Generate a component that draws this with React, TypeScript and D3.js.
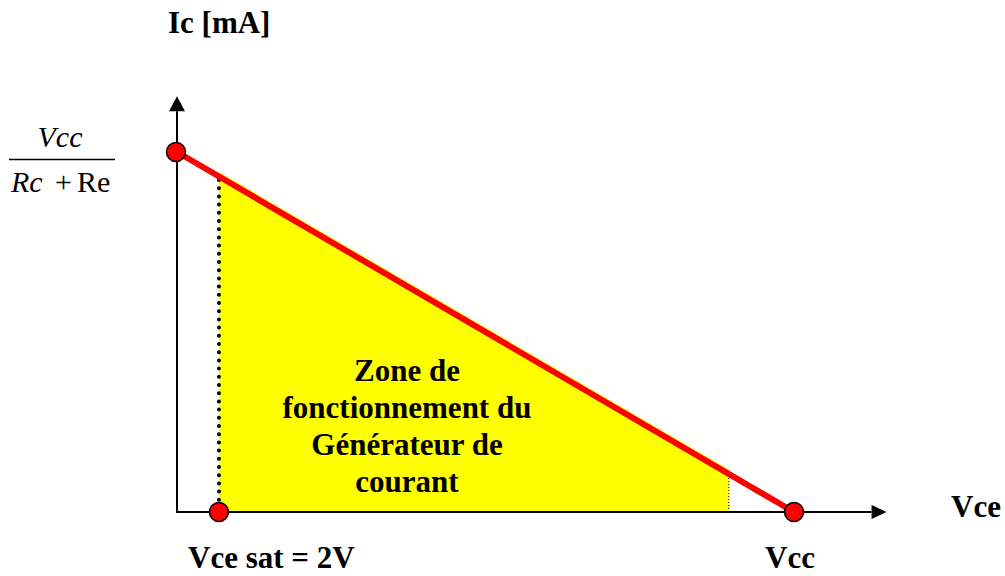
import React from "react";
import * as d3 from "d3";

// Normalised values: Vce in units of Vcc, Ic in units of Vcc/(Rc+Re)
const loadLineVce = [0, 1];
const loadLineIc = [1, 0];
const markerVce = [0, 0.068, 1];
const markerIc = [1, 0, 0];
const vceSat = 0.068;
const zoneEnd = 0.895;
const axisMaxVce = 1.15;
const axisMaxIc = 1.155;
const zoneLines = ["Zone de", "fonctionnement du", "Générateur de", "courant"];

const W = 1005;
const H = 576;
const serif = "'Liberation Serif', 'Times New Roman', serif";

export default function App() {
  const x = d3.scaleLinear().domain([0, 1]).range([177, 794]);
  const y = d3.scaleLinear().domain([0, 1]).range([512, 152]);

  const lineGen = d3
    .line<[number, number]>()
    .x((d) => x(d[0]))
    .y((d) => y(d[1]));

  const load: [number, number][] = loadLineVce.map((v, i) => [v, loadLineIc[i]]);
  const icAt = (v: number) => 1 - v;

  // yellow zone (peeks slightly above the red line)
  const off = 4.5;
  const zonePath = [
    `M${x(vceSat)},${y(0)}`,
    `L${x(vceSat)},${y(icAt(vceSat)) - off}`,
    `L${x(zoneEnd)},${y(icAt(zoneEnd)) - off}`,
    `L${x(zoneEnd)},${y(0)}`,
    "Z",
  ].join(" ");

  const yTop = y(axisMaxIc);
  const xRight = x(axisMaxVce);
  const ah = 15;
  const aw = 8;

  const zoneCx = 407;
  const zoneBaselines = [381, 418, 455, 492];
  const fs = 31;

  return (
    <svg
      width={W}
      height={H}
      style={{ position: "absolute", left: 0, top: 0, background: "#fff" }}
      fontFamily={serif}
    >
      <rect width={W} height={H} fill="#fff" />
      {/* zone */}
      <path d={zonePath} fill="#ffff00" />
      {/* dotted verticals */}
      <line
        x1={x(vceSat)}
        x2={x(vceSat)}
        y1={y(0) - 4}
        y2={y(icAt(vceSat)) - 3}
        stroke="#000"
        strokeWidth={4}
        strokeLinecap="round"
        strokeDasharray="0 8.2"
      />
      <line
        x1={x(zoneEnd) - 0.5}
        x2={x(zoneEnd) - 0.5}
        y1={y(0)}
        y2={y(icAt(zoneEnd))}
        stroke="#000"
        strokeWidth={1}
        strokeDasharray="1 2"
      />
      {/* axes */}
      <line x1={x(0)} x2={x(0)} y1={y(0) + 1} y2={yTop + ah} stroke="#000" strokeWidth={2} />
      <path
        d={`M${x(0)},${yTop} L${x(0) - aw},${yTop + ah} L${x(0) + aw},${yTop + ah} Z`}
        fill="#000"
      />
      <line x1={x(0) - 1} x2={xRight - ah} y1={y(0)} y2={y(0)} stroke="#000" strokeWidth={2} />
      <path
        d={`M${xRight},${y(0)} L${xRight - ah},${y(0) - 7} L${xRight - ah},${y(0) + 7} Z`}
        fill="#000"
      />
      {/* load line */}
      <path d={lineGen(load) || ""} stroke="#ff0000" strokeWidth={6} fill="none" />
      {markerVce.map((v, i) => (
        <circle
          key={i}
          cx={x(v) - (i === 0 ? 1 : 0)}
          cy={y(markerIc[i])}
          r={9.5}
          fill="#ff0000"
          stroke="#000"
          strokeWidth={1.5}
        />
      ))}
      {/* zone text */}
      {zoneLines.map((t, i) => (
        <text
          key={i}
          x={zoneCx}
          y={zoneBaselines[i]}
          textAnchor="middle"
          fontWeight="bold"
          fontSize={fs}
          fill="#000"
        >
          {t}
        </text>
      ))}
      {/* axis labels */}
      <text x={168} y={33} fontWeight="bold" fontSize={fs}>
        Ic [mA]
      </text>
      <text x={951} y={517} fontWeight="bold" fontSize={fs}>
        Vce
      </text>
      <text x={188} y={568} fontWeight="bold" fontSize={fs}>
        Vce sat = 2V
      </text>
      <text x={765} y={568} fontWeight="bold" fontSize={fs}>
        Vcc
      </text>
      {/* fraction */}
      <text x={60} y={147} textAnchor="middle" fontStyle="italic" fontSize={30}>
        Vcc
      </text>
      <line x1={9} x2={115} y1={159.5} y2={159.5} stroke="#000" strokeWidth={1.5} />
      <text x={11} y={192} fontStyle="italic" fontSize={30}>
        Rc
      </text>
      <text x={55} y={192} fontSize={30}>
        +
      </text>
      <text x={77} y={192} fontSize={30}>
        Re
      </text>
    </svg>
  );
}
